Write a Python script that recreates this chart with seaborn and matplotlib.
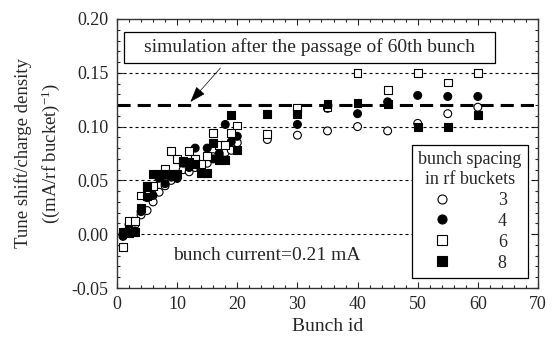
import numpy as np
import pandas as pd
import matplotlib
matplotlib.use("Agg")
import matplotlib.pyplot as plt
from matplotlib.lines import Line2D
from matplotlib.patches import Rectangle
from matplotlib.ticker import MultipleLocator, FormatStrFormatter
import seaborn as sns

# ---------------- data ----------------
x3 = [1, 2, 3, 4, 5, 6, 7, 8, 9, 10, 11, 12, 13, 14, 15, 16, 17, 18, 19, 20, 25, 30, 35, 40, 45, 50, 55, 60]
y3 = [0.000, 0.005, 0.009, 0.018, 0.022, 0.030, 0.039, 0.045, 0.050, 0.052, 0.060, 0.058, 0.062, 0.060,
      0.066, 0.072, 0.074, 0.076, 0.078, 0.085, 0.088, 0.092, 0.096, 0.100, 0.096, 0.103, 0.112, 0.118]

x4 = [1, 2, 3, 4, 5, 6, 7, 8, 9, 10, 11, 12, 13, 14, 15, 16, 17, 18, 19, 20, 30, 35, 40, 45, 50, 55, 60]
y4 = [-0.002, 0.009, 0.003, 0.021, 0.034, 0.036, 0.052, 0.047, 0.053, 0.052, 0.066, 0.062, 0.080, 0.060,
      0.080, 0.070, 0.075, 0.102, 0.086, 0.091, 0.102, 0.117, 0.112, 0.123, 0.129, 0.128, 0.128]

x6 = [1, 2, 3, 4, 5, 6, 7, 8, 9, 10, 11, 12, 13, 14, 15, 16, 17, 18, 19, 20, 25, 30, 35, 40, 45, 50, 55, 60]
y6 = [-0.012, 0.012, 0.012, 0.036, 0.044, 0.045, 0.055, 0.061, 0.077, 0.070, 0.068, 0.077, 0.070, 0.065,
      0.073, 0.094, 0.083, 0.083, 0.094, 0.101, 0.093, 0.117, 0.118, 0.150, 0.134, 0.150, 0.141, 0.150]

x8 = [1, 2, 3, 4, 5, 5, 6, 7, 8, 9, 10, 11, 12, 13, 14, 15, 16, 17, 18, 19, 20, 25, 30, 35, 40, 45, 50, 55, 60]
y8 = [0.002, 0.001, 0.002, 0.024, 0.045, 0.035, 0.056, 0.056, 0.056, 0.056, 0.056, 0.067, 0.067, 0.065,
      0.057, 0.057, 0.085, 0.069, 0.069, 0.111, 0.078, 0.112, 0.112, 0.121, 0.122, 0.121, 0.100, 0.100, 0.111]

spacings = ["3", "4", "6", "8"]
simulation_level = 0.12
grid_levels = [0.15, 0.10, 0.05, 0.00]

df = pd.concat([
    pd.DataFrame({"bunch": x3, "shift": y3, "spacing": "3"}),
    pd.DataFrame({"bunch": x4, "shift": y4, "spacing": "4"}),
    pd.DataFrame({"bunch": x6, "shift": y6, "spacing": "6"}),
    pd.DataFrame({"bunch": x8, "shift": y8, "spacing": "8"}),
], ignore_index=True)

face = {"3": "white", "4": "black", "6": "white", "8": "black"}
marks = {"3": "o", "4": "o", "6": "s", "8": "s"}

# ---------------- style ----------------
sns.set_style("ticks")
plt.rcParams["font.family"] = ["Liberation Serif", "DejaVu Serif"]
plt.rcParams["mathtext.fontset"] = "custom"
plt.rcParams["mathtext.rm"] = "Liberation Serif"
plt.rcParams["mathtext.it"] = "Liberation Serif:italic"
plt.rcParams["axes.unicode_minus"] = False
FS = 14
TFS = 13

fig = plt.figure(figsize=(5.59, 3.38), dpi=100)
ax = fig.add_axes([0.2093, 0.1479, 0.7531, 0.7959])

# reference lines
for lv in grid_levels:
    ax.axhline(lv, color="black", lw=0.8, dashes=(2.7, 2.7), zorder=1)
ax.axhline(simulation_level, color="black", lw=2.2, dashes=(4.3, 2.3), zorder=2)

sns.scatterplot(data=df, x="bunch", y="shift", hue="spacing", style="spacing",
                palette=face, markers=marks, hue_order=spacings, style_order=spacings,
                s=32, edgecolor="black", linewidth=0.8, legend=False, ax=ax, zorder=3)

ax.set_xlim(0, 70)
ax.set_ylim(-0.05, 0.20)
ax.xaxis.set_major_locator(MultipleLocator(10))
ax.xaxis.set_minor_locator(MultipleLocator(2))
ax.yaxis.set_major_locator(MultipleLocator(0.05))
ax.yaxis.set_minor_locator(MultipleLocator(0.01))
ax.yaxis.set_major_formatter(FormatStrFormatter("%.2f"))
ax.tick_params(which="both", direction="in", top=True, right=True, labelsize=TFS, width=0.8)
ax.tick_params(which="major", length=4.5, pad=6)
ax.tick_params(which="minor", length=2.5)
for sp in ax.spines.values():
    sp.set_linewidth(1.0)
    sp.set_color("#333333")

ax.set_xlabel("Bunch id", fontsize=FS, labelpad=3)
ax.set_ylabel("Tune shift/charge density\n((mA/rf bucket)$^{-1}$)", fontsize=13.5, labelpad=7,
              linespacing=1.45)

# simulation box
ax.add_patch(Rectangle((1.17, 0.159), 61.6, 0.029, facecolor="white", edgecolor="black",
                       lw=0.9, zorder=4))
ax.text(32.0, 0.1735, "simulation after the passage of 60th bunch", ha="center", va="center",
        fontsize=FS, zorder=5)
ax.annotate("", xy=(12.2, 0.1229), xytext=(17.2, 0.1545),
            arrowprops=dict(arrowstyle="-|>,head_length=1.0,head_width=0.35", color="black",
                            lw=0.5, shrinkA=0, shrinkB=0), zorder=5)

ax.text(9.4, -0.0195, "bunch current=0.21 mA", ha="left", va="center", fontsize=FS, zorder=5)

# legend
handles = [Line2D([], [], ls="none", marker=marks[k], markersize=6.5, markerfacecolor=face[k],
                  markeredgecolor="black", markeredgewidth=0.8) for k in spacings]
leg = ax.legend(handles, spacings, title="bunch spacing\nin rf buckets", fontsize=13,
                title_fontsize=13, loc="lower right", bbox_to_anchor=(0.976, 0.037),
                borderaxespad=0, frameon=True, fancybox=False, edgecolor="black",
                framealpha=1, handletextpad=2.6, handlelength=1.0, labelspacing=0.22,
                borderpad=0.35)
leg.get_frame().set_linewidth(0.9)
leg.get_title().set_multialignment("center")
leg.set_zorder(6)

fig.savefig("out.png", dpi=100)
